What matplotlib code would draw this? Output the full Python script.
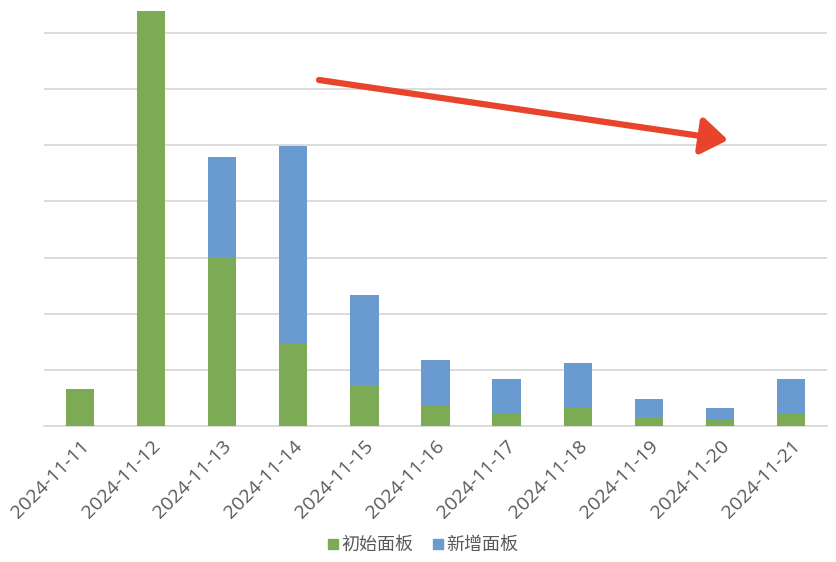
import matplotlib
matplotlib.use("Agg")
import matplotlib.pyplot as plt
from matplotlib.lines import Line2D
import numpy as np

plt.rcParams['font.family'] = ['Open Sans', 'Noto Sans CJK SC', 'DejaVu Sans']

dates = ["2024-11-11", "2024-11-12", "2024-11-13", "2024-11-14", "2024-11-15",
         "2024-11-16", "2024-11-17", "2024-11-18", "2024-11-19", "2024-11-20",
         "2024-11-21"]
initial = [6.6, 74.0, 30.0, 14.7, 7.1, 3.6, 2.4, 3.4, 1.5, 1.1, 2.4]
added = [0.0, 0.0, 17.9, 35.1, 16.2, 8.2, 6.0, 7.8, 3.3, 2.1, 6.0]
series_names = ["初始面板", "新增面板"]

green = "#7DAB55"
blue = "#6A9BD0"

W, H = 836, 562
fig = plt.figure(figsize=(W / 100, H / 100), dpi=100)
ax = fig.add_axes([44.3 / W, 1 - 426 / H, (826.7 - 44.3) / W, 426 / H])

x = np.arange(len(dates))
ax.bar(x, initial, width=0.4, color=green, zorder=3)
ax.bar(x, added, width=0.4, bottom=initial, color=blue, zorder=3)

ax.set_xlim(-0.5, 10.5)
ax.set_ylim(0, 75.9)
ax.set_yticks(np.arange(0, 80, 10))
ax.yaxis.grid(True, color="#D9D9D9", linewidth=1.3, zorder=0)
ax.tick_params(axis='y', left=False, labelleft=False)
ax.tick_params(axis='x', length=0, pad=8)
for s in ["top", "right", "left"]:
    ax.spines[s].set_visible(False)
ax.spines["bottom"].set_color("#D9D9D9")
ax.spines["bottom"].set_linewidth(1.3)

ax.set_xticks(x)
ax.set_xticklabels(dates, rotation=45, ha='right', rotation_mode='anchor',
                   fontsize=14, color="#595959")

handles = [Line2D([0], [0], marker='s', linestyle='none', markersize=7,
                  markerfacecolor=green, markeredgecolor=green),
           Line2D([0], [0], marker='s', linestyle='none', markersize=7,
                  markerfacecolor=blue, markeredgecolor=blue)]
fig.legend(handles, series_names, loc='center', bbox_to_anchor=(423 / W, 1 - 545 / H),
           ncol=2, frameon=False, handlelength=0.6, handletextpad=0.15,
           columnspacing=1.1, labelcolor="#595959",
           prop={'family': ['Noto Sans CJK SC', 'DejaVu Sans'], 'size': 13})

ax.annotate("", xy=(728 / W, 1 - 140 / H), xytext=(319 / W, 1 - 80 / H),
            xycoords='figure fraction', textcoords='figure fraction',
            arrowprops=dict(arrowstyle="-|>,head_length=0.8,head_width=0.56",
                            mutation_scale=20,
                            color="#E8442B", lw=4.5, shrinkA=0, shrinkB=0))

fig.savefig("out.png", dpi=100)
